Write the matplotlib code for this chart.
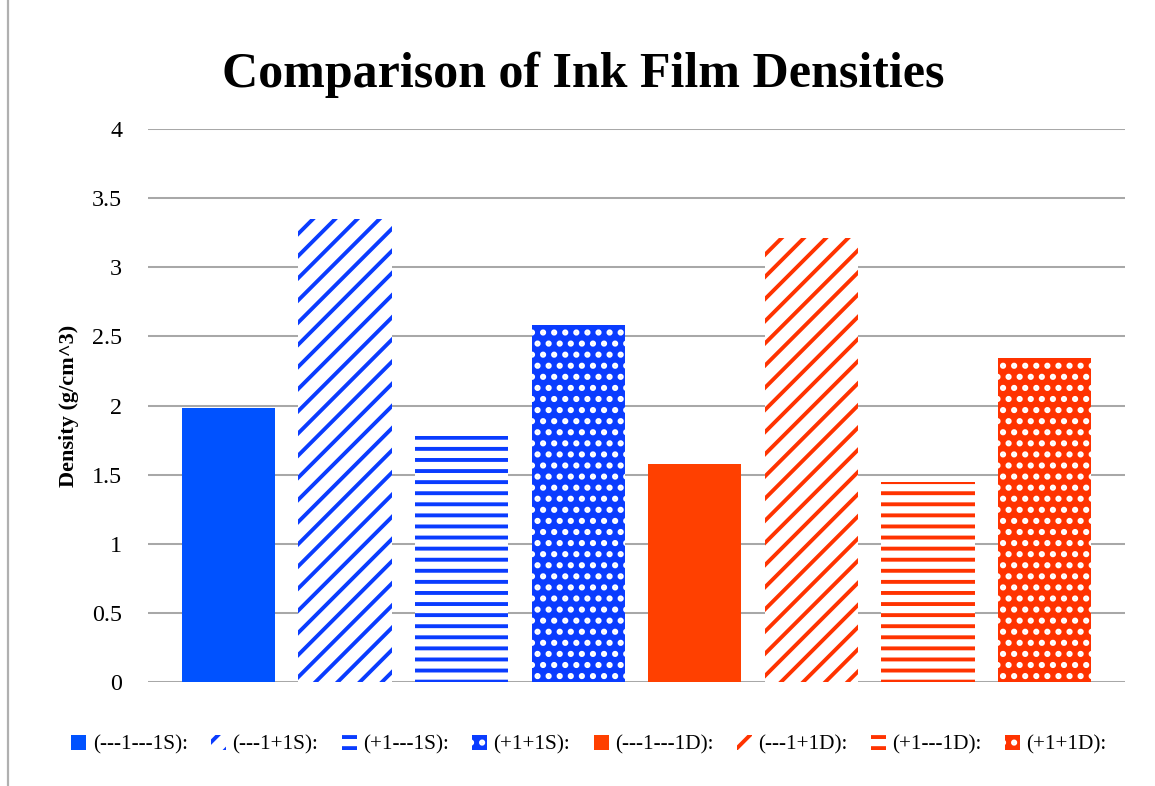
import matplotlib
matplotlib.use("Agg")
import matplotlib.pyplot as plt
from matplotlib.lines import Line2D
import numpy as np

labels = ["(---1---1S):", "(---1+1S):", "(+1---1S):", "(+1+1S):",
          "(---1---1D):", "(---1+1D):", "(+1---1D):", "(+1+1D):"]
densities = [1.98, 3.35, 1.78, 2.58, 1.58, 3.21, 1.45, 2.34]

blue = "#0a3cff"
red = "#ff3300"
solid_blue = "#0052ff"
solid_red = "#ff4000"

# (face, hatch colour, hatch)
styles = [
    (solid_blue, solid_blue, None),
    ("white", blue, "//"),
    ("white", blue, "--"),
    (blue, "white", ".."),
    (solid_red, solid_red, None),
    ("white", red, "//"),
    ("white", red, "--"),
    (red, "white", ".."),
]

plt.rcParams["font.family"] = ["Liberation Serif", "DejaVu Serif"]
plt.rcParams["hatch.linewidth"] = 2.1

dpi = 133.3
fig = plt.figure(figsize=(1155 / dpi, 786 / dpi), dpi=dpi)
ax = fig.add_axes([148 / 1155, 1 - 682 / 786, (1125 - 148) / 1155, (682 - 129) / 786])

x = np.arange(len(densities))
bars = []
for i, (v, st) in enumerate(zip(densities, styles)):
    face, hc, hatch = st
    b = ax.bar(x[i], v, width=0.8, color=face, edgecolor=hc, hatch=hatch,
               linewidth=0, label=labels[i], zorder=3)
    bars.append(b)

ax.set_ylim(0, 4)
ax.set_xlim(-0.69, 7.69)
ax.set_yticks(np.arange(0, 4.01, 0.5))
ax.set_yticklabels(["0", "0.5", "1", "1.5", "2", "2.5", "3", "3.5", "4"])
ax.set_xticks([])
ax.yaxis.grid(True, color="#a8a8a8", linewidth=1.1)
ax.set_axisbelow(True)
for s in ax.spines.values():
    s.set_visible(False)
ax.tick_params(axis="y", length=0, pad=14, labelsize=13)
ax.set_ylabel("Density (g/cm^3)", fontsize=12, fontweight="bold", labelpad=7)

fig.text(0.505, 0.905, "Comparison of Ink Film Densities", ha="center", va="center",
         fontsize=27, fontweight="bold")

fig.legend(handles=[b[0] for b in bars], labels=labels, loc="center",
           bbox_to_anchor=(0.51, 1 - 745 / 786), ncol=8, frameon=False,
           fontsize=11.5, handlelength=0.7, handleheight=0.7, handletextpad=0.3,
           columnspacing=1.1)

fig.add_artist(Line2D([8 / 1155, 8 / 1155], [0, 1], color="#b0b0b0", linewidth=1.2))

fig.savefig("out.png", dpi=dpi)
